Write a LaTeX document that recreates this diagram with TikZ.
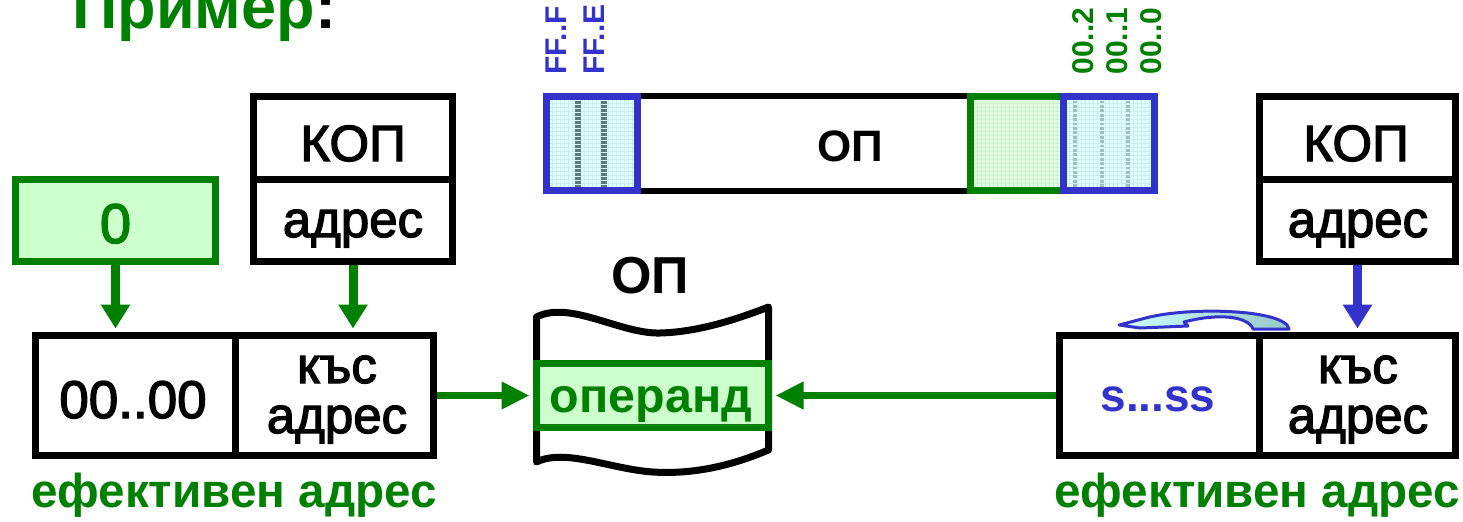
\documentclass[tikz,border=0pt]{standalone}
\usepackage{fontspec}
\setmainfont{Liberation Sans}
\newfontfamily\medfont{Liberation Sans}[FakeBold=2.5]
\usetikzlibrary{arrows.meta}

\definecolor{ggreen}{RGB}{0,128,0}
\definecolor{lgreen}{RGB}{204,255,204}
\definecolor{bblue}{RGB}{51,51,204}
\definecolor{cellcyan}{RGB}{224,255,255}
\definecolor{gridcyan}{RGB}{200,238,238}
\definecolor{cellgreen}{RGB}{226,255,226}
\definecolor{gridgreen}{RGB}{204,242,204}
\definecolor{stripedark}{RGB}{90,124,120}
\definecolor{stripelight}{RGB}{160,192,188}
\definecolor{swirlA}{RGB}{204,255,255}
\definecolor{swirlB}{RGB}{150,200,200}

\tikzset{
  regbox/.style={draw=black, line width=3.5pt, rectangle, inner sep=0pt},
  grnbox/.style={draw=ggreen, fill=lgreen, line width=3.5pt, rectangle, inner sep=0pt},
  boxtxt/.style={anchor=base, inner sep=0pt, font=\medfont\fontsize{25.5}{26}\selectfont},
  grntxt/.style={anchor=base, inner sep=0pt, text=ggreen, font=\bfseries\fontsize{24.2}{24.2}\selectfont},
  lbl/.style={anchor=base, text=ggreen, font=\bfseries\fontsize{23.8}{23.8}\selectfont, inner sep=0pt},
  vlbl/.style={rotate=90, anchor=west, inner sep=0pt, font=\bfseries\fontsize{15}{15}\selectfont},
  gridcell/.style={rectangle, inner sep=0pt, line width=3.5pt, minimum width=#1,
    minimum height=47pt},
  garrow/.style={draw=ggreen, line width=4.5pt,
    -{Triangle[length=12pt,width=14pt]}, shorten >=1.75pt},
  barrow/.style={draw=bblue, line width=4.5pt,
    -{Triangle[length=12pt,width=14pt]}, shorten >=1.75pt},
  harrow/.style={draw=ggreen, line width=3.75pt,
    -{Triangle[length=14pt,width=13pt]}, shorten >=1.75pt},
}

\begin{document}
\begin{tikzpicture}[x=0.5pt,y=-0.5pt]
\useasboundingbox (0,0) rectangle (1463,521);

% title
\node[anchor=base west, inner sep=0pt, font=\bfseries\fontsize{31.5}{31.5}\selectfont]
  (title) at (72,28) {\textcolor{ggreen}{Пример}:};

% memory strip
\node[draw=black, line width=3pt, minimum width=166.5pt, minimum height=47.25pt, inner sep=0pt]
  (memM) at (803.5,143.25) {};
\node[anchor=base, font=\bfseries\fontsize{22}{22}\selectfont, inner sep=0pt] (memtxt) at (850,161) {ОП};

\node[gridcell=45.5pt, draw=bblue, fill=cellcyan,
  path picture={\draw[gridcyan, line width=0.4pt, step=2pt]
    (path picture bounding box.south west) grid (path picture bounding box.north east);}]
  (memL) at (592,143.5) {};
\node[gridcell=46.5pt, draw=ggreen, fill=cellgreen,
  path picture={\draw[gridgreen, line width=0.4pt, step=2pt]
    (path picture bounding box.south west) grid (path picture bounding box.north east);}]
  (memG) at (1017,143.5) {};
\node[gridcell=45.5pt, draw=bblue, fill=cellcyan,
  path picture={\draw[gridcyan, line width=0.4pt, step=2pt]
    (path picture bounding box.south west) grid (path picture bounding box.north east);}]
  (memR) at (1109,143.5) {};

% byte stripes inside the end cells
\foreach \xs in {578,604}
  \draw[stripedark, line width=2.8pt, dash pattern=on 1.6pt off 0.4pt] (\xs,100.5) -- (\xs,187);
\foreach \xs in {1075,1102,1128}
  \draw[stripelight, line width=2.4pt, dash pattern=on 1.4pt off 0.8pt] (\xs,100.5) -- (\xs,187);

% cell addresses
\node[vlbl, text=bblue] (aFF) at (556,75) {FF..F};
\node[vlbl, text=bblue] (aFE) at (594,75) {FF..E};
\node[vlbl, text=ggreen] (a02) at (1083,75) {00..2};
\node[vlbl, text=ggreen] (a01) at (1117,75) {00..1};
\node[vlbl, text=ggreen] (a00) at (1151,75) {00..0};

% left: zero extension
\node[grnbox, minimum width=100pt, minimum height=41pt] (zero) at (115.5,220.5) {};
\node[anchor=base, inner sep=0pt, text=ggreen, font=\medfont\fontsize{28}{28}\selectfont]
  (zerot) at (115.5,243) {0};
\node[regbox, minimum width=99.5pt, minimum height=41.25pt] (kop1) at (353,137.75) {};
\node[boxtxt] (kop1t) at (353,161) {КОП};
\node[regbox, minimum width=99.5pt, minimum height=41.25pt] (adr1) at (353,220.25) {};
\node[boxtxt] (adr1t) at (353,237) {адрес};

\node[regbox, minimum width=99.75pt, minimum height=60pt] (ea1L) at (135.25,395.5) {};
\node[boxtxt, font=\medfont\fontsize{26.5}{26.5}\selectfont] (ea1Lt) at (133,418) {00..00};
\node[regbox, minimum width=99.25pt, minimum height=60pt] (ea1R) at (334.25,395.5) {};
\node[boxtxt] (ea1Rt1) at (337,383) {къс};
\node[boxtxt] (ea1Rt2) at (337,433) {адрес};
\node[lbl] (lblL) at (234,507) {ефективен адрес};

\draw[garrow] (zero.south) -- (zero.south |- ea1L.north);
\draw[garrow] (adr1.south) -- (adr1.south |- ea1R.north);

% main memory with the operand
\draw[line width=3.5pt, line join=round]
  (536.5,317) .. controls (570,300) and (620,334) .. (660,333)
              .. controls (700,332) and (740,318) .. (768.5,307)
  -- (768.5,450)
  .. controls (740,462) and (700,475) .. (653,472)
  .. controls (610,469) and (565,448) .. (536.5,462) -- cycle;
\node[anchor=base, font=\bfseries\fontsize{26}{26}\selectfont, inner sep=0pt] (oplbl) at (650,293) {ОП};
\node[grnbox, minimum width=116pt, minimum height=32pt] (op) at (652.5,395.5) {};
\node[grntxt] (opt) at (651,412) {операнд};

% right: sign extension
\node[regbox, minimum width=98pt, minimum height=41.25pt] (kop2) at (1357.5,137.75) {};
\node[boxtxt] (kop2t) at (1356,161) {КОП};
\node[regbox, minimum width=98pt, minimum height=41.25pt] (adr2) at (1357.5,220.25) {};
\node[boxtxt] (adr2t) at (1358,237) {адрес};
\node[regbox, minimum width=99.75pt, minimum height=60pt] (eaRL) at (1159.25,395.5) {};
\node[anchor=base, inner sep=0pt, text=bblue, font=\bfseries\fontsize{23}{23}\selectfont]
  (eaRLt) at (1158,411) {s...ss};
\node[regbox, minimum width=98.25pt, minimum height=60pt] (eaRR) at (1357.25,395.5) {};
\node[boxtxt] (eaRRt1) at (1358,383) {къс};
\node[boxtxt] (eaRRt2) at (1358,433) {адрес};
\node[lbl] (lblR) at (1257,507) {ефективен адрес};

\draw[barrow] (adr2.south) -- (adr2.south |- eaRR.north);

% curved arrow: sign bit copied to the left
\draw[bblue, line width=1.5pt, line join=round, left color=swirlA, right color=swirlB]
  (1289,329) .. controls (1286,309) and (1185,306) .. (1142,319)
  -- (1119,325) -- (1140,328) -- (1188,326) -- (1184,322)
  .. controls (1218,313) and (1248,316) .. (1253,329) -- cycle;

% effective address to operand
\draw[harrow] (ea1R.east) -- (op.west);
\draw[harrow] (eaRL.west) -- (op.east);

\end{tikzpicture}
\end{document}
